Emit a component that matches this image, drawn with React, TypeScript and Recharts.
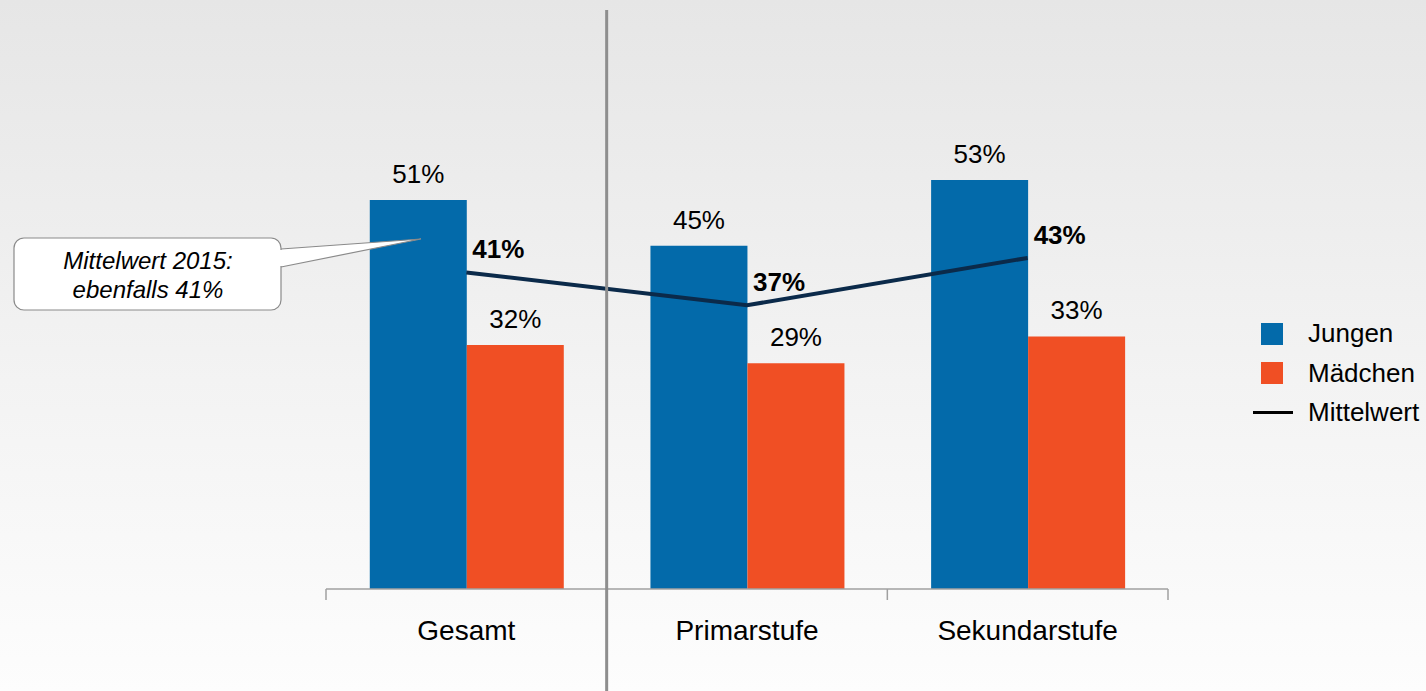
import React from 'react';
import {
  ComposedChart,
  Bar,
  Line,
  XAxis,
  YAxis,
  Legend,
  LabelList,
} from 'recharts';

const categories = ['Gesamt', 'Primarstufe', 'Sekundarstufe'];
const jungen = [51.0, 45.0, 53.6];
const maedchen = [32.0, 29.6, 33.1];
const mittelwert = [41.5, 37.2, 43.4];

const W = 1426;
const H = 691;
const M = { top: 55, right: 258, bottom: 0, left: 326 };
const AXIS_H = 102;
const AXIS_Y = H - AXIS_H;
const BAND = (W - M.left - M.right) / categories.length;

const FONT = '"Liberation Sans", Arial, sans-serif';
const BLUE = '#036aaa';
const ORANGE = '#f04f24';
const NAVY = '#0b2a4a';

const data = categories.map((name, i) => ({
  name,
  jungen: jungen[i],
  maedchen: maedchen[i],
  mittel: mittelwert[i],
}));

const pct = (v: any) => `${Math.floor(Number(v))}%`;

function AxisTick(props: any) {
  const { x, payload, index } = props;
  const left = x - BAND / 2;
  return (
    <g>
      {index === 1 ? (
        <line x1={left} x2={left} y1={10} y2={H} stroke="#8e8e8e" strokeWidth={3} />
      ) : (
        <line x1={left} x2={left} y1={AXIS_Y} y2={AXIS_Y + 11} stroke="#a0a0a0" strokeWidth={1.5} />
      )}
      {index === categories.length - 1 && (
        <line x1={x + BAND / 2} x2={x + BAND / 2} y1={AXIS_Y} y2={AXIS_Y + 11} stroke="#a0a0a0" strokeWidth={1.5} />
      )}
      <text x={x} y={AXIS_Y + 51} textAnchor="middle" fontFamily={FONT} fontSize={28} fill="#000">
        {payload.value}
      </text>
    </g>
  );
}

function LineLabel(props: any) {
  const { x, y, value } = props;
  return (
    <text x={x + 6} y={y - 14} fontFamily={FONT} fontSize={26} fontWeight="bold" fill="#000">
      {pct(value)}
    </text>
  );
}

// speech bubble pointing into the Gesamt bar, drawn over the chart
function Callout() {
  return (
    <svg
      width={W}
      height={H}
      style={{ position: 'absolute', left: 0, top: 0, pointerEvents: 'none' }}
    >
      <path d="M 281 249 L 421 239 L 281 267" fill="#fff" stroke="#8a8a8a" strokeWidth={1.2} />
      <rect x={14} y={238} width={267} height={72} rx={10} fill="#fff" stroke="#8a8a8a" strokeWidth={1.2} />
      <rect x={278} y={250} width={6} height={16} fill="#fff" />
      <text textAnchor="middle" fontFamily={FONT} fontSize={24} fontStyle="italic" fill="#000">
        <tspan x={148} y={269}>Mittelwert 2015:</tspan>
        <tspan x={148} y={298}>ebenfalls 41%</tspan>
      </text>
    </svg>
  );
}

function LegendContent() {
  const items = [
    { label: 'Jungen', color: BLUE, type: 'square' },
    { label: 'Mädchen', color: ORANGE, type: 'square' },
    { label: 'Mittelwert', color: '#000', type: 'line' },
  ];
  return (
    <div style={{ fontFamily: FONT, fontSize: 26, color: '#000' }}>
      {items.map((it) => (
        <div key={it.label} style={{ display: 'flex', alignItems: 'center', height: 39.5 }}>
          <div style={{ width: 55, display: 'flex', justifyContent: 'flex-end' }}>
            {it.type === 'square' ? (
              <div style={{ width: 22, height: 22, background: it.color, marginRight: 10 }} />
            ) : (
              <div style={{ width: 40, height: 3, background: it.color, marginRight: 0 }} />
            )}
          </div>
          <span style={{ marginLeft: 15 }}>{it.label}</span>
        </div>
      ))}
    </div>
  );
}

export default function App() {
  return (
    <div
      style={{
        position: 'absolute',
        left: 0,
        top: 0,
        width: W,
        height: H,
        background: 'linear-gradient(to bottom, #e6e6e6 0%, #f3f3f3 55%, #fdfdfd 100%)',
        overflow: 'hidden',
      }}
    >
      <ComposedChart
        width={W}
        height={H}
        data={data}
        margin={M}
        barCategoryGap="15.6%"
        barGap={0}
      >
        <XAxis
          dataKey="name"
          height={AXIS_H}
          axisLine={{ stroke: '#a0a0a0', strokeWidth: 1.5 }}
          tickLine={false}
          tick={<AxisTick />}
          interval={0}
        />
        <YAxis hide domain={[0, 70]} />
        <Legend
          layout="vertical"
          align="center"
          verticalAlign="middle"
          content={<LegendContent />}
          wrapperStyle={{ left: 1238, top: 314, width: 188 }}
        />
        <Bar dataKey="jungen" name="Jungen" fill={BLUE} isAnimationActive={false}>
          <LabelList
            dataKey="jungen"
            position="top"
            offset={17}
            formatter={pct}
            style={{ fontFamily: FONT, fontSize: 26, fill: '#000' }}
          />
        </Bar>
        <Bar dataKey="maedchen" name="Mädchen" fill={ORANGE} isAnimationActive={false}>
          <LabelList
            dataKey="maedchen"
            position="top"
            offset={17}
            formatter={pct}
            style={{ fontFamily: FONT, fontSize: 26, fill: '#000' }}
          />
        </Bar>
        <Line
          dataKey="mittel"
          name="Mittelwert"
          type="linear"
          stroke={NAVY}
          strokeWidth={4}
          dot={false}
          isAnimationActive={false}
        >
          <LabelList dataKey="mittel" content={<LineLabel />} />
        </Line>
      </ComposedChart>
      <Callout />
    </div>
  );
}
